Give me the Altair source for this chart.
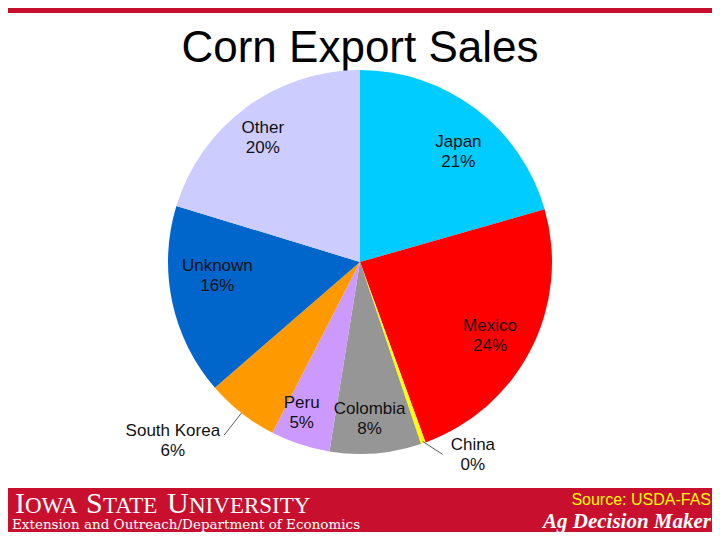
import math
import numpy as np
import pandas as pd
import altair as alt

# ---- data ----
categories = ["Japan", "Mexico", "China", "Colombia", "Peru", "South Korea", "Unknown", "Other"]
shares = [20.6, 23.9, 0.4, 7.7, 5.0, 6.1, 16.1, 20.3]
pct_labels = ["21%", "24%", "0%", "8%", "5%", "6%", "16%", "20%"]
colors = ["#00CCFF", "#FF0000", "#FFFF00", "#969696", "#CC99FF", "#FF9900", "#0066CC", "#CCCCFF"]

df = pd.DataFrame({
    "cat": categories,
    "share": shares,
    "idx": list(range(len(categories))),
    "label": [f"{c}\n{p}" for c, p in zip(categories, pct_labels)],
})

W, H = 704, 508          # plot area; pie centre = (352, 254) -> page (360, 262)
CX, CY = W / 2, H / 2
R = 192
RED = "#C8102E"
one = pd.DataFrame({"a": [0]})

theta = alt.Theta("share:Q", stack=True)
order = alt.Order("idx:Q", sort="ascending")

pie = alt.Chart(df).mark_arc(outerRadius=R, innerRadius=0).encode(
    theta=theta,
    order=order,
    color=alt.Color("cat:N", scale=alt.Scale(domain=categories, range=colors), legend=None),
)

txt_style = dict(font="Liberation Sans", fontSize=17, lineBreak="\n", lineHeight=20,
                 color="#111111", align="center", baseline="middle")

# label placement per slice: (radius, dx, dy)
placement = {
    "Japan": (155, 5, 4),
    "Mexico": (155, -8, -7),
    "China": (215, 42, -20),
    "Colombia": (155, -3, -7),
    "Peru": (155, -10, -6),
    "South Korea": (240, -39, -20),
    "Unknown": (155, 9, -28),
    "Other": (155, -5, -9),
}

labels = []
for cat in categories:
    r, dx, dy = placement[cat]
    labels.append(
        alt.Chart(df).transform_calculate(
            t=f"datum.cat == '{cat}' ? datum.label : ''"
        ).mark_text(radius=r, dx=dx, dy=dy, **txt_style).encode(
            theta=theta, order=order, text="t:N")
    )

# leader lines derived from slice mid-angles
tot = sum(shares)
cum = np.cumsum(shares)
mids = {c: (cum[i] - shares[i] / 2) / tot for i, c in enumerate(categories)}

def polar(frac, r):
    a = 2 * math.pi * frac
    return CX + r * math.sin(a), CY - r * math.cos(a)

sx1, sy1 = polar(mids["South Korea"], R)
sx2, sy2 = polar(mids["South Korea"], R + 28)
cx1, cy1 = polar(mids["China"], R - 2)
cx2, cy2 = cx1 + 20, cy1 + 13

leaders = [
    alt.Chart(one).mark_rule(color="#333333", strokeWidth=0.8).encode(
        x=alt.value(x1), y=alt.value(y1), x2=alt.value(x2), y2=alt.value(y2))
    for (x1, y1, x2, y2) in [(sx1, sy1, sx2, sy2), (cx1, cy1, cx2, cy2)]
]

# slide decorations
top_bar = alt.Chart(one).mark_rect(color=RED).encode(
    x=alt.value(0), x2=alt.value(W), y=alt.value(0), y2=alt.value(5))
bottom_band = alt.Chart(one).mark_rect(color=RED).encode(
    x=alt.value(0), x2=alt.value(W), y=alt.value(480), y2=alt.value(H + 16))

title = alt.Chart(one).mark_text(font="Liberation Sans", fontSize=44, align="center",
                                 baseline="alphabetic", color="#000000").encode(
    x=alt.value(352), y=alt.value(54), text=alt.value("Corn Export Sales"))

def t(s, x, y, size, font, color="#FFFFFF", align="left", style="normal", weight="normal"):
    return alt.Chart(one).mark_text(font=font, fontSize=size, align=align, baseline="alphabetic",
                                    color=color, fontStyle=style, fontWeight=weight).encode(
        x=alt.value(x), y=alt.value(y), text=alt.value(s))

serif = "Liberation Serif"
isu = [
    t("I", 7, 505, 30, serif),
    t("OWA", 17, 505, 23, serif),
    t("S", 78, 505, 30, serif),
    t("TATE", 95, 505, 23, serif),
    t("U", 159, 505, 30, serif),
    t("NIVERSITY", 181, 505, 23, serif),
]
ext = t("Extension and Outreach/Department of Economics", 4, 521, 13.5, "DejaVu Serif")
src = t("Source: USDA-FAS", 703, 497, 16, "Liberation Sans", color="#FFFF00", align="right")
adm = t("Ag Decision Maker", 703, 520, 21, serif, align="right", style="italic", weight="bold")

chart = alt.layer(
    top_bar, bottom_band, title, pie, *labels, *leaders, *isu, ext, src, adm
).properties(
    width=W, height=H,
    autosize=alt.AutoSizeParams(type="none"),
    padding={"left": 0, "top": 0, "right": 0, "bottom": 16},
    background="#FFFFFF",
).configure_view(stroke=None)

chart.save("out.html", embed_options={"renderer": "svg", "actions": False})
